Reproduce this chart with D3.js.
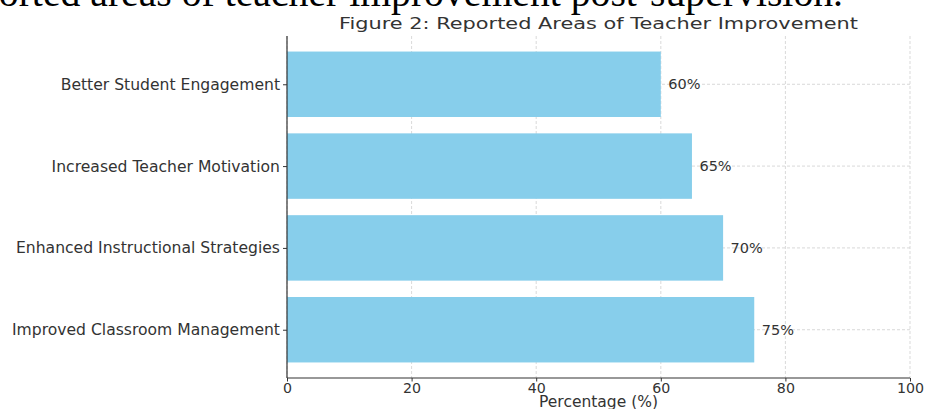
<!DOCTYPE html>
<html>
<head>
<meta charset="utf-8">
<script src="https://cdn.jsdelivr.net/npm/d3@7"></script>
<style>
  html, body { margin: 0; padding: 0; background: #fff; }
  svg { display: block; }
</style>
</head>
<body>
<svg id="chart" width="925" height="409"></svg>
<script>
// Areas reported by teachers after supervision, percent
const categories = [
  "Improved Classroom Management",
  "Enhanced Instructional Strategies",
  "Increased Teacher Motivation",
  "Better Student Engagement"
];
const percentages = [75, 70, 65, 60];
const xTicks = [0, 20, 40, 60, 80, 100];

const W = 925, H = 409;
const margin = { left: 287, right: 15, top: 36, bottom: 31 };
const svg = d3.select("#chart");
const sans = "'DejaVu Sans', sans-serif";
const ink = "#333";

// Caption line of the surrounding document, partly cut off at the top edge
svg.append("text")
  .attr("x", 843).attr("y", 6)
  .attr("text-anchor", "end")
  .attr("font-family", "'Liberation Serif', 'Times New Roman', serif")
  .attr("font-size", 39.7)
  .attr("fill", "#000")
  .text("Figure 2 shows the reported areas of teacher improvement post-supervision.");

const x = d3.scaleLinear().domain([0, 100]).range([margin.left, W - margin.right]);

// Band positions follow a bar height of 0.8 with a 5% data margin
const y = d3.scaleLinear()
  .domain([-0.59, categories.length - 1 + 0.59])
  .range([H - margin.bottom, margin.top]);
const barH = y(0) - y(0.8);

const g = svg.append("g");

// Grid
g.selectAll(".vgrid").data(xTicks).join("line")
  .attr("x1", d => x(d)).attr("x2", d => x(d))
  .attr("y1", margin.top).attr("y2", H - margin.bottom)
  .attr("stroke", "#cfcfcf").attr("stroke-width", 0.8)
  .attr("stroke-dasharray", "3,2");
g.selectAll(".hgrid").data(categories).join("line")
  .attr("x1", margin.left).attr("x2", W - margin.right)
  .attr("y1", (d, i) => y(i)).attr("y2", (d, i) => y(i))
  .attr("stroke", "#cfcfcf").attr("stroke-width", 0.8)
  .attr("stroke-dasharray", "3,2");

// Bars
g.selectAll(".bar").data(percentages).join("rect")
  .attr("x", x(0))
  .attr("y", (d, i) => y(i) - barH / 2)
  .attr("width", d => x(d) - x(0))
  .attr("height", barH)
  .attr("fill", "#87ceeb");

// Value labels
g.selectAll(".val").data(percentages).join("text")
  .attr("x", d => x(d + 1.2))
  .attr("y", (d, i) => y(i))
  .attr("dy", "0.35em")
  .attr("font-family", sans)
  .attr("font-size", 14.5)
  .attr("fill", ink)
  .text(d => d + "%");

// Axes
const xAxis = d3.axisBottom(x).tickValues(xTicks).tickSize(3.5).tickPadding(1.5);
const gx = svg.append("g").attr("transform", `translate(0,${H - margin.bottom})`).call(xAxis);
gx.select(".domain").attr("stroke", ink).attr("stroke-width", 1.2).attr("d", `M${x(0)},0H${x(100)}`);
gx.selectAll(".tick line").attr("stroke", ink);
gx.selectAll(".tick text")
  .attr("font-family", sans)
  .attr("font-size", 14.2).attr("fill", ink);

const yAxis = d3.axisLeft(y).tickValues(d3.range(categories.length))
  .tickFormat(i => categories[i]).tickSize(4).tickPadding(3);
const gy = svg.append("g").attr("transform", `translate(${margin.left},0)`).call(yAxis);
gy.select(".domain").attr("stroke", ink).attr("stroke-width", 1.2)
  .attr("d", `M0,${margin.top}V${H - margin.bottom}`);
gy.selectAll(".tick line").attr("stroke", ink);
gy.selectAll(".tick text")
  .attr("font-family", sans)
  .attr("font-size", 15.6).attr("fill", ink);

// Titles (the chart title is drawn wide, as in the source figure)
svg.append("text")
  .attr("x", (x(0) + x(100)) / 2).attr("y", 29)
  .attr("text-anchor", "middle")
  .attr("font-family", sans)
  .attr("font-size", 15.5).attr("fill", ink)
  .attr("textLength", 519).attr("lengthAdjust", "spacingAndGlyphs")
  .text("Figure 2: Reported Areas of Teacher Improvement");

svg.append("text")
  .attr("x", (x(0) + x(100)) / 2).attr("y", 406.5)
  .attr("text-anchor", "middle")
  .attr("font-family", sans)
  .attr("font-size", 15.5).attr("fill", ink)
  .text("Percentage (%)");
</script>
</body>
</html>
